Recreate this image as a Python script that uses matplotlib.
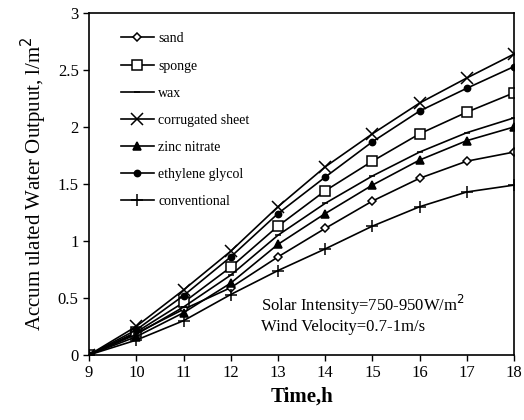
import matplotlib
matplotlib.use("Agg")
import matplotlib.pyplot as plt

# time of day, h
hours = [9, 10, 11, 12, 13, 14, 15, 16, 17, 18]

# accumulated water output, l/m2
sand = [0, 0.19, 0.40, 0.59, 0.86, 1.11, 1.35, 1.55, 1.70, 1.78]
sponge = [0, 0.20, 0.46, 0.77, 1.13, 1.44, 1.70, 1.94, 2.13, 2.30]
wax = [0, 0.18, 0.42, 0.70, 1.05, 1.33, 1.57, 1.78, 1.95, 2.08]
corrugated = [0, 0.25, 0.57, 0.91, 1.30, 1.65, 1.94, 2.21, 2.43, 2.64]
zinc = [0, 0.16, 0.37, 0.63, 0.97, 1.24, 1.49, 1.71, 1.88, 2.00]
glycol = [0, 0.22, 0.52, 0.86, 1.24, 1.56, 1.87, 2.14, 2.34, 2.53]
conventional = [0, 0.13, 0.30, 0.53, 0.74, 0.93, 1.13, 1.30, 1.43, 1.49]

serif = ["Liberation Serif", "DejaVu Serif"]
plt.rcParams["font.family"] = serif

fig = plt.figure(figsize=(5.24, 4.20), dpi=100)
ax = fig.add_axes([0.170, 0.155, 0.811, 0.814])

#series: (label, values, marker, filled)
series = [
    ("sand", sand, "D", False),
    ("sponge", sponge, "s", False),
    ("wax", wax, "_", True),
    ("corrugated sheet", corrugated, "x", True),
    ("zinc nitrate", zinc, "^", True),
    ("ethylene glycol", glycol, "o", True),
    ("conventional", conventional, "+", True),
]
msize = {"D": 4.5, "s": 6.5, "_": 5, "x": 8, "^": 6, "o": 4.5, "+": 9}

for label, vals, mk, filled in series:
    ax.plot(hours, vals, color="black", lw=1.2, marker=mk,
            markersize=msize[mk], markeredgewidth=1.1,
            markerfacecolor="black" if filled else "white",
            markeredgecolor="black", label=label)

ax.set_xlim(9, 18)
ax.set_ylim(0, 3)
ax.set_xticks(hours)
ax.set_yticks([0, 0.5, 1, 1.5, 2, 2.5, 3])
ax.set_yticklabels(["0", "0.5", "1", "1.5", "2", "2.5", "3"])
ax.tick_params(direction="out", length=4, width=1, labelsize=12, colors="black")
for s in ax.spines.values():
    s.set_linewidth(1.2)

ax.set_xlabel("Time,h", fontsize=15, fontweight="bold", labelpad=4)
ax.set_ylabel("Accum ulated Water Outpuut, l/m$^2$", fontsize=15, labelpad=6)

ax.text(0.405, 0.145, "Solar Intensity=750-950W/m$^2$", transform=ax.transAxes,
        fontsize=12, va="center")
ax.text(0.405, 0.082, "Wind Velocity=0.7-1m/s", transform=ax.transAxes,
        fontsize=12, va="center")

ax.legend(loc="upper left", bbox_to_anchor=(0.045, 0.98), frameon=False,
          fontsize=10, handlelength=2.4, labelspacing=1.02, handletextpad=0.3)

fig.savefig("out.png", dpi=100)
